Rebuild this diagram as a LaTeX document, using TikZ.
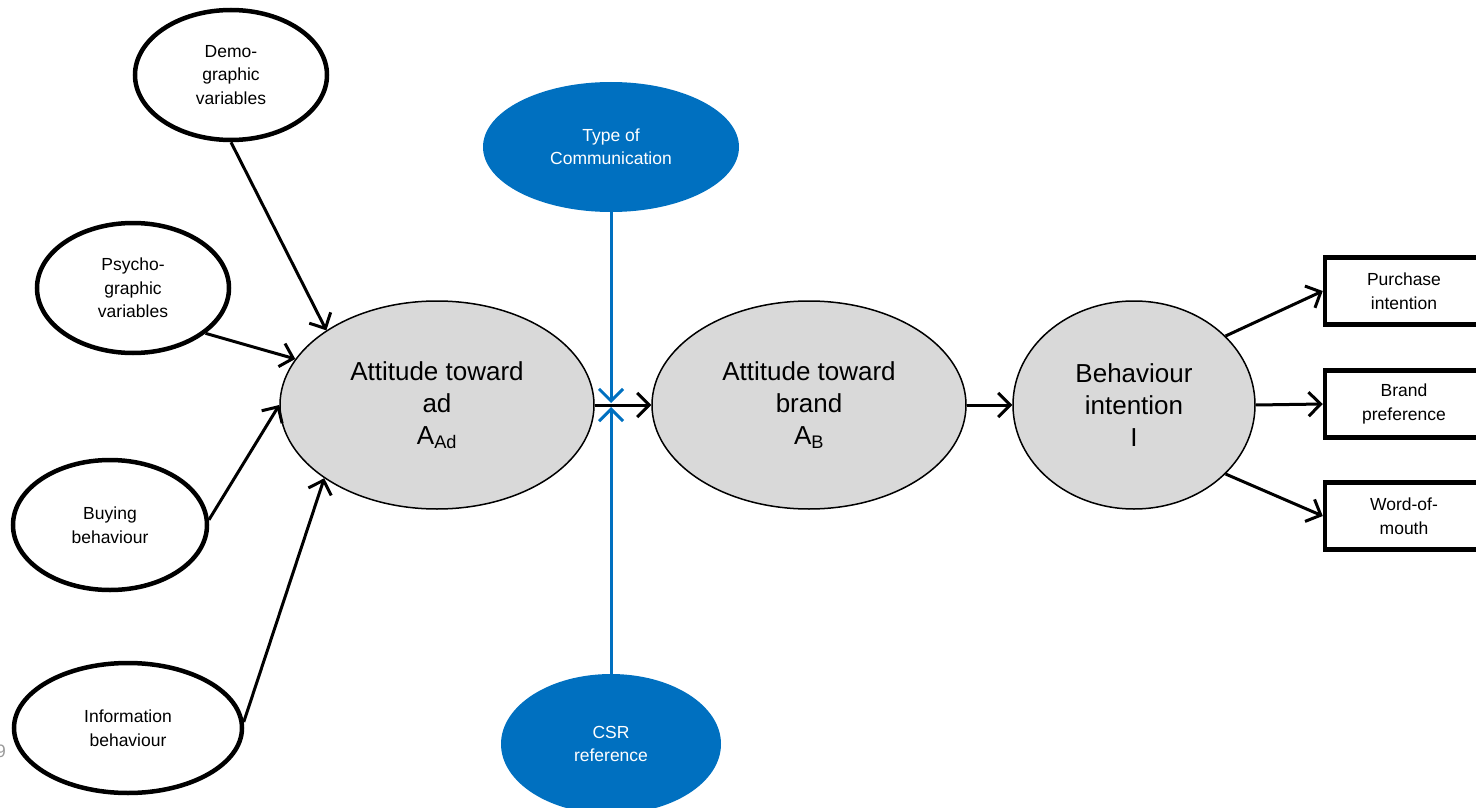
\documentclass[tikz,border=0pt]{standalone}
\usepackage{fontspec}
\setmainfont{Liberation Sans}
\usetikzlibrary{shapes.geometric,arrows.meta}

\definecolor{modblue}{RGB}{0,112,192}
\definecolor{attgrey}{RGB}{217,217,217}

\begin{document}
\begin{tikzpicture}[x=1pt,y=-1pt,
    >={Straight Barb[length=12pt,width=24pt]},
    small/.style={font=\fontsize{17.5}{23.5}\selectfont, align=center},
    large/.style={font=\fontsize{26}{32}\selectfont, align=center},
    driver/.style={ellipse, draw, line width=4.5pt, fill=white, inner sep=0pt,
        minimum width=192pt, minimum height=130pt, small},
    moderator/.style={ellipse, fill=modblue, text=white, inner sep=0pt,
        minimum height=130pt, small},
    attitude/.style={ellipse, draw, line width=1.5pt, fill=attgrey, inner sep=0pt,
        minimum width=314pt, minimum height=208pt, large},
    outcome/.style={rectangle, draw, line width=4.5pt, fill=white,
        minimum width=158pt, minimum height=67pt, small},
    link/.style={line width=3pt},
    modlink/.style={line width=3pt, draw=modblue}]
    \useasboundingbox (0,0) rectangle (1476,808);
    \clip (0,0) rectangle (1476,808);

    %% Drivers on the left
    \node [driver] (demo) at (231,75) {Demo-\\graphic\\variables};
    \node [driver] (psycho) at (133,288) {Psycho-\\graphic\\variables};
    \node [driver, minimum width=194pt] (buying) at (110,525) {Buying\\behaviour};
    \node [driver, minimum width=228pt] (info) at (128,728) {Information\\behaviour};

    %% Attitude chain
    \node [attitude] (attad) at (437,405) {Attitude toward\\ad\\A\textsubscript{Ad}};
    \node [attitude] (attbrand) at (809,405) {Attitude toward\\brand\\A\textsubscript{B}};
    \node [attitude, minimum width=242pt] (behint) at (1134,405) {Behaviour\\intention\\I};

    %% Moderators
    \node [moderator, minimum width=256pt] (typecom) at (611,147) {Type of\\Communication};
    \node [moderator, minimum width=220pt, minimum height=140pt] (csr) at (611,744) {CSR\\reference};

    %% Outcomes
    \node [outcome] (purchase) at (1404,291) {Purchase\\intention};
    \node [outcome] (brandpref) at (1404,404) {Brand\\preference};
    \node [outcome] (wom) at (1404,516) {Word-of-\\mouth};

    %% page number at the edge
    \node [text=black!40, font=\fontsize{18}{18}\selectfont] (pagenum) at (1,751) {9};

    %% Arrows
    \path [->] (demo.south) edge [link] (attad.146);
    \path [->] (psycho.-32) edge [link] (attad.162);
    \path [->] (buying.3) edge [link] (attad.west);
    \path [->] (info.3) edge [link] (attad.213);
    \path [->] (attad.east) edge [link] (attbrand.west);
    \path [->] (attbrand.east) edge [link] (behint.west);
    \path [->] (behint.37) edge [link] (purchase.west);
    \path [->] (behint.east) edge [link] (brandpref.west);
    \path [->] (behint.-37) edge [link] (wom.west);

    %% Moderating effects on the ad -> brand link
    \coordinate (modtop) at (611,403);
    \coordinate (modbot) at (611,407);
    \path [->] (typecom.south) edge [modlink] (modtop);
    \path [->] (csr.north) edge [modlink] (modbot);
\end{tikzpicture}
\end{document}
